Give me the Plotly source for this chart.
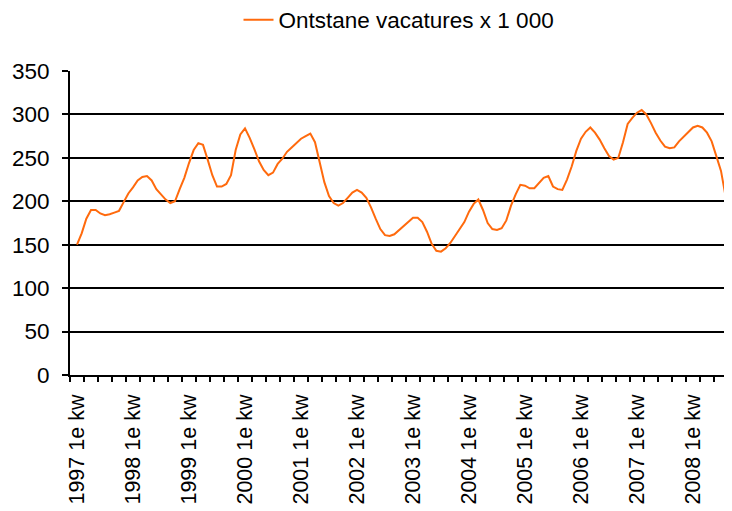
import plotly.graph_objects as go

# monthly series, Feb 1997 .. Sep 2008 (x 1 000)
years = list(range(1997, 2009))
vacatures = [
    150, 163, 180, 190, 190, 186, 184, 185, 187, 189, 199,
    209, 216, 224, 228, 229, 224, 214, 208, 202, 198, 200, 214,
    227, 244, 259, 267, 265, 248, 230, 217, 217, 220, 230, 259,
    277, 284, 273, 260, 246, 236, 230, 233, 243, 249, 257, 262,
    267, 272, 275, 278, 268, 244, 222, 206, 198, 195, 198, 204,
    210, 213, 210, 204, 193, 180, 168, 161, 160, 162, 167, 172,
    176, 181, 181, 176, 165, 151, 143, 142, 146, 152, 160, 168,
    176, 188, 197, 202, 190, 175, 168, 167, 169, 178, 195, 208,
    219, 218, 215, 215, 221, 227, 229, 217, 214, 213, 225, 240,
    258, 272, 280, 285, 279, 271, 261, 252, 248, 250, 268, 289,
    296, 302, 305, 300, 290, 279, 270, 263, 261, 262, 269, 274,
    279, 285, 287, 285, 279, 269, 252, 235, 205,
]
month_idx = list(range(1, len(vacatures) + 1))
tick_pos = [12 * (y - years[0]) + 1 for y in years]
tick_txt = [f"{y} 1e kw" for y in years]

fig = go.Figure()
fig.add_trace(go.Scatter(x=month_idx, y=vacatures, mode="lines",
                         name="Ontstane vacatures x 1 000",
                         line=dict(color="#ff6a0d", width=2)))

# the page body has an 8px margin, so the figure is sized to fit the window
W, H = 724, 503
fig.update_layout(
    width=W, height=H,
    margin=dict(l=62, r=4, t=63, b=136),
    paper_bgcolor="white", plot_bgcolor="white",
    font=dict(family="Liberation Sans, Arial", size=22.5, color="black"),
    showlegend=True,
    legend=dict(orientation="h", x=0.5, xanchor="center",
                yref="container", y=1 - 12 / H, yanchor="middle",
                font=dict(size=22.5)),
)
fig.update_xaxes(range=[-0.5, len(vacatures) + 0.5], showgrid=False, zeroline=False,
                 showline=True, linecolor="black", linewidth=2, automargin=False,
                 tickmode="array", tickvals=tick_pos, ticktext=tick_txt,
                 tickangle=-90, ticks="", ticklabelstandoff=9,
                 tickfont=dict(size=21.5),
                 minor=dict(ticks="outside", tickmode="linear", tick0=-0.5, dtick=3,
                            ticklen=5, tickcolor="black", tickwidth=2, showgrid=False))
fig.update_yaxes(range=[0, 350], dtick=50, showgrid=True, gridcolor="black", gridwidth=2,
                 zeroline=False, showline=True, linecolor="black", linewidth=2,
                 automargin=False, ticklabelstandoff=8,
                 ticks="outside", ticklen=6, tickcolor="black", tickwidth=2)

fig.write_html("out.html")
